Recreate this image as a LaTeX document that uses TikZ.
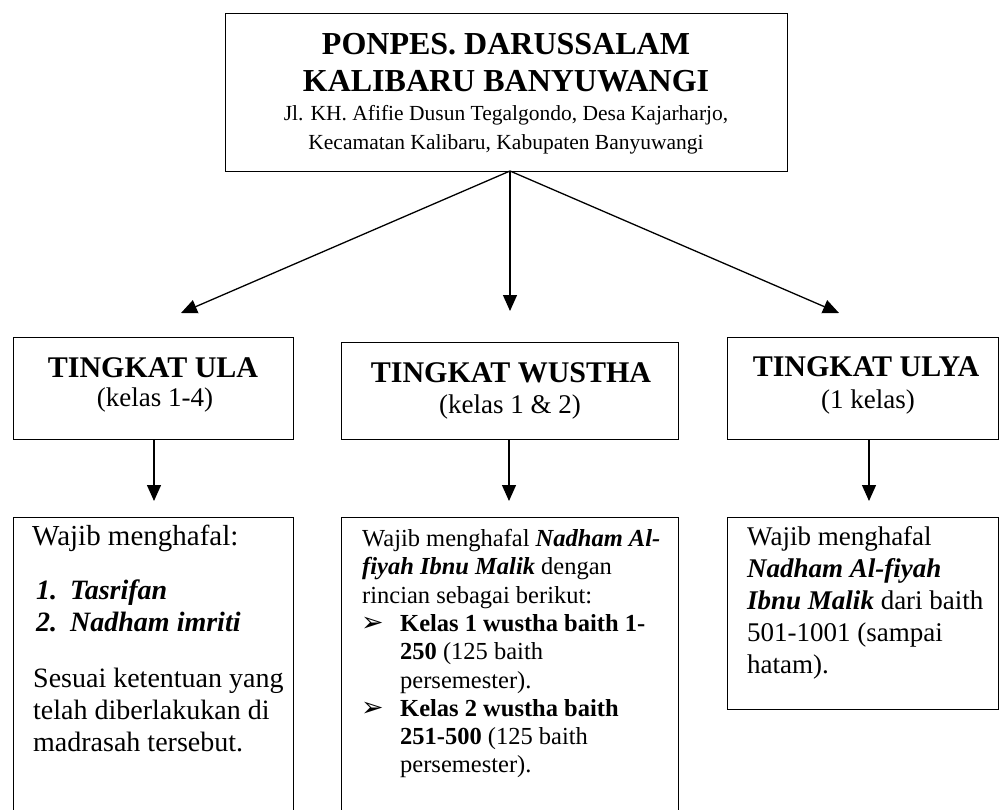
\documentclass[tikz,border=0pt]{standalone}
\usepackage{fontspec}
\setmainfont{Liberation Serif}
\newfontfamily\symfont{DejaVu Sans}
\usetikzlibrary{arrows.meta}
\begin{document}
\begin{tikzpicture}[x=1pt,y=-1pt,
  box/.style={draw,line width=1.4pt,rectangle,inner sep=0pt,anchor=north west},
  conn/.style={line width=1.3pt,-{Triangle[length=16pt,width=14pt]}},
  ctxt/.style={inner sep=0pt,anchor=base},
  ltxt/.style={inner sep=0pt,anchor=base west},
  titlef/.style={font=\fontsize{32}{38}\selectfont\bfseries},
  addrf/.style={font=\fontsize{21.5}{26}\selectfont},
  headf/.style={font=\fontsize{30}{35}\selectfont\bfseries},
  subf/.style={font=\fontsize{27}{31}\selectfont},
  bodyL/.style={font=\fontsize{28}{32}\selectfont},
  bodyM/.style={font=\fontsize{24.5}{28}\selectfont},
  bodyR/.style={font=\fontsize{27}{31}\selectfont},
  bul/.style={font=\symfont\fontsize{27}{30}\selectfont}]
\useasboundingbox (0,0) rectangle (1001,809);
\clip (0,0) rectangle (1001,809);
\fill[white] (0,0) rectangle (1001,809);

% boxes
\node[box,minimum width=562pt,minimum height=158pt] (top) at (225,13) {};
\node[box,minimum width=280pt,minimum height=102pt] (ula) at (13,337) {};
\node[box,minimum width=337pt,minimum height=97pt] (wus) at (341,342) {};
\node[box,minimum width=271pt,minimum height=102pt] (uly) at (727,337) {};
\node[box,minimum width=280pt,minimum height=330pt] (b1) at (13,517) {};
\node[box,minimum width=337pt,minimum height=330pt] (b2) at (341,517) {};
\node[box,minimum width=271pt,minimum height=192pt] (b3) at (727,517) {};

% connectors
\coordinate (aL) at (181,313);
\coordinate (aM) at (510,311);
\coordinate (aR) at (839,313);
\coordinate (dL) at (154,501);
\coordinate (dM) at (509,501);
\coordinate (dR) at (869,501);
\coordinate (src) at (510,171);
\draw[conn] (src) -- (aL);
\draw[conn] (src) -- (aM);
\draw[conn] (src) -- (aR);
\draw[conn] (ula.south -| dL) -- (dL);
\draw[conn] (wus.south -| dM) -- (dM);
\draw[conn] (uly.south -| dR) -- (dR);

% top box text
\node[ctxt,titlef] (t1) at (506,54) {PONPES. DARUSSALAM};
\node[ctxt,titlef] (t2) at (506,91) {KALIBARU BANYUWANGI};
\node[ctxt,addrf] (t3) at (506,120) {Jl. KH. Afifie Dusun Tegalgondo, Desa Kajarharjo,};
\node[ctxt,addrf] (t4) at (506,149) {Kecamatan Kalibaru, Kabupaten Banyuwangi};

% heading texts
\node[ctxt,headf] (h1) at (153,377) {TINGKAT ULA};
\node[ctxt,subf] (s1) at (155,406) {(kelas 1-4)};
\node[ctxt,headf] (h2) at (511,382) {TINGKAT WUSTHA};
\node[ctxt,subf] (s2) at (510,413) {(kelas 1 \& 2)};
\node[ctxt,headf] (h3) at (866,376) {TINGKAT ULYA};
\node[ctxt,subf] (s3) at (868,408) {(1 kelas)};

% left bottom box
\node[ltxt,font=\fontsize{29}{33}\selectfont] (l1) at (32,545) {Wajib menghafal:};
\node[ltxt,bodyL] (l2n) at (36,599) {\textbf{\textit{1.}}};
\node[ltxt,bodyL] (l2) at (70,599) {\textbf{\textit{Tasrifan}}};
\node[ltxt,bodyL] (l3n) at (36,631) {\textbf{\textit{2.}}};
\node[ltxt,bodyL] (l3) at (70,631) {\textbf{\textit{Nadham imriti}}};
\node[ltxt,bodyL] (l4) at (33,687) {Sesuai ketentuan yang};
\node[ltxt,bodyL] (l5) at (33,719) {telah diberlakukan di};
\node[ltxt,bodyL] (l6) at (33,751) {madrasah tersebut.};

% middle bottom box
\node[ltxt,bodyM] (m1) at (362,546) {Wajib menghafal \textbf{\textit{Nadham Al-}}};
\node[ltxt,bodyM] (m2) at (362,574) {\textbf{\textit{fiyah Ibnu Malik}} dengan};
\node[ltxt,bodyM] (m3) at (362,603) {rincian sebagai berikut:};
\node[ltxt,bul] (m4b) at (361,631) {➢};
\node[ltxt,bodyM] (m4) at (400,631) {\textbf{Kelas 1 wustha baith 1-}};
\node[ltxt,bodyM] (m5) at (400,659) {\textbf{250} (125 baith};
\node[ltxt,bodyM] (m6) at (400,688) {persemester).};
\node[ltxt,bul] (m7b) at (361,716) {➢};
\node[ltxt,bodyM] (m7) at (400,716) {\textbf{Kelas 2 wustha baith}};
\node[ltxt,bodyM] (m8) at (400,744) {\textbf{251-500} (125 baith};
\node[ltxt,bodyM] (m9) at (400,772) {persemester).};

% right bottom box
\node[ltxt,bodyR] (r1) at (747,545) {Wajib menghafal};
\node[ltxt,bodyR] (r2) at (747,577) {\textbf{\textit{Nadham Al-fiyah}}};
\node[ltxt,bodyR] (r3) at (747,609) {\textbf{\textit{Ibnu Malik}} dari baith};
\node[ltxt,bodyR] (r4) at (747,641) {501-1001 (sampai};
\node[ltxt,bodyR] (r5) at (747,673) {hatam).};
\end{tikzpicture}
\end{document}
